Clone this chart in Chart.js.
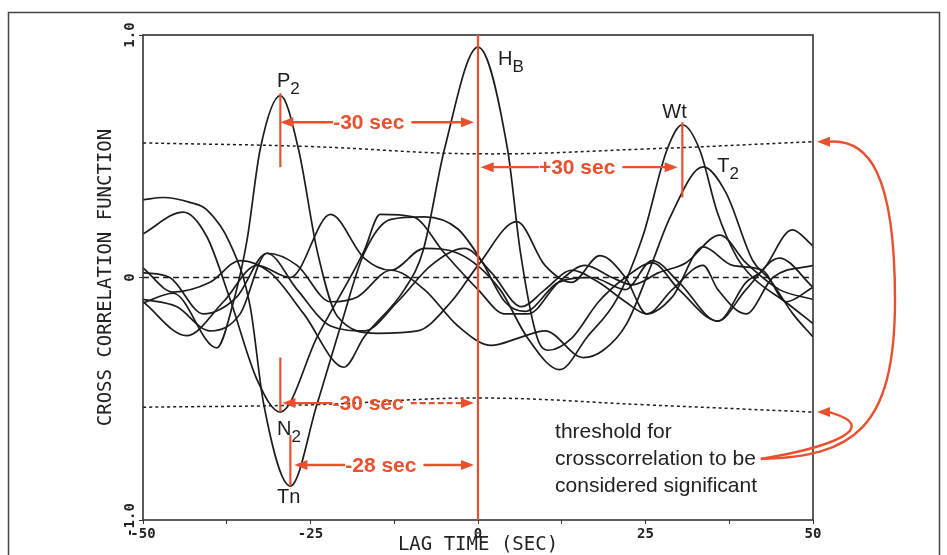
<!DOCTYPE html>
<html lang="en">
<head>
<meta charset="UTF-8">
<title>Cross Correlation Function</title>
<script src="https://cdn.jsdelivr.net/npm/chart.js"></script>
<style>
    html, body { margin: 0; padding: 0; background: #fff; }
    #wrap { width: 947px; height: 555px; position: relative; }
</style>
</head>
<body>
<div id="wrap"><canvas id="ccf" width="947" height="555"></canvas></div>
<script>
// --- curves (lag in sec, correlation) ---
const hbX = [-50, -45.5, -40, -35.5, -31, -26, -20, -17, -11, -8.2, -5, 0, 4.4, 6.3, 8.8, 10.5, 14, 18, 22, 26, 30, 35.8, 40, 42.5, 46.9, 50];
const hbY = [0.04, -0.06, -0.02, 0.07, 0.02, -0.15, -0.37, -0.245, -0.05, 0.11, 0.53, 0.95, 0.53, 0.11, -0.245, -0.3, -0.25, -0.1, 0.0, 0.06, -0.05, -0.18, -0.02, 0.03, 0.196, 0.13];

const p2X = [-50, -45.5, -39, -36.5, -34.5, -32.5, -29.5, -26.8, -24, -21, -15, -9, -4, 0, 5.8, 10, 14, 18.2, 22, 25.2, 29, 33.6, 38, 42.5, 46, 50];
const p2Y = [-0.105, -0.065, -0.29, -0.1, 0.15, 0.53, 0.75, 0.53, 0.11, -0.16, -0.23, -0.22, -0.1, 0.05, 0.23, 0.05, -0.02, 0.09, 0.0, -0.15, -0.08, 0.126, 0.05, 0.03, -0.1, -0.04];

const tnX = [-50, -47, -43, -40.5, -37, -34, -32, -28, -24, -20.5, -17, -13, -8, -3, 0.5, 4, 7, 12, 17, 22, 26, 30, 35.8, 40, 45, 50];
const tnY = [0.32, 0.33, 0.31, 0.28, 0.14, -0.12, -0.52, -0.86, -0.52, -0.2, 0.1, 0.24, 0.25, 0.2, 0.07, -0.1, -0.14, -0.02, 0.0, -0.05, 0.07, -0.02, -0.18, -0.05, 0.08, -0.04];

const n2X = [-50, -44, -40.5, -37, -33, -29.5, -24, -17, -14.6, -9.7, -5, 0, 4, 7.5, 12, 16, 20, 23, 27, 31, 36.1, 40, 45, 50];
const n2Y = [0.18, 0.27, 0.17, -0.09, -0.42, -0.555, -0.245, 0.11, 0.26, 0.25, 0.1, -0.05, -0.15, -0.15, -0.02, 0.05, 0.0, -0.03, 0.02, 0.06, 0.175, 0.06, -0.05, -0.09];

const wtX = [-50, -43.5, -38, -33, -28, -22, -17, -13, -8, -3, 3.3, 7.3, 12.2, 16.3, 20.7, 24.6, 28.2, 30.5, 33.1, 35.7, 38.6, 41, 46.1, 50];
const wtY = [-0.1, -0.24, -0.1, 0.05, 0.0, 0.26, 0.08, 0.03, 0.12, 0.1, -0.05, -0.245, -0.38, -0.245, -0.09, 0.17, 0.526, 0.63, 0.526, 0.27, 0.085, 0.0, -0.105, -0.19];

const t2X = [-50, -46, -41, -36, -31.5, -27, -22, -18, -13, -8, -3, 2, 6, 10, 15.7, 18.7, 22.2, 25.7, 28.7, 33.6, 37, 41, 43.6, 47, 50];
const t2Y = [0.02, 0.0, -0.15, -0.08, 0.1, 0.05, -0.1, -0.08, 0.03, -0.05, -0.2, -0.28, -0.25, -0.22, -0.33, -0.3, -0.19, 0.04, 0.25, 0.456, 0.35, 0.07, -0.01, -0.15, -0.245];

const c7X = [-50, -45, -40, -35.5, -31.5, -27, -22, -17, -12, -7, -2, 2, 6.5, 10, 14, 18, 22, 25.2, 29, 33.6, 35.8, 40, 44, 50];
const c7Y = [-0.09, -0.12, -0.22, -0.15, 0.1, -0.05, -0.2, -0.22, -0.1, 0.05, 0.12, 0.02, -0.12, -0.05, 0.03, -0.02, -0.1, -0.15, -0.05, 0.05, -0.05, -0.15, 0.0, 0.05];

// significance thresholds and zero line
const thrX = [-50, -25, 0, 25, 50];
const thrUp = [0.555, 0.54, 0.51, 0.53, 0.56];
const thrLow = [-0.535, -0.525, -0.497, -0.525, -0.555];
const zeroX = [-50, 50];
const zeroY = [0, 0];

// annotations
const arrowY = [0.64, 0.455, -0.518, -0.773];
const arrowFrom = [-29.5, 0.4, -29.2, -27.4];
const arrowTo = [-0.6, 29.8, -0.6, -0.6];
const arrowText = ['-30 sec', '+30 sec', '-30 sec', '-28 sec'];
const arrowTextX = [-16.3, 14.8, -16.4, -14.5];

const markX = [-29.5, -29.5, -28, 30.5];
const markTop = [0.76, -0.33, -0.65, 0.64];
const markBottom = [0.455, -0.555, -0.86, 0.33];

const labelMain = ['P', 'H', 'N', 'Tn', 'Wt', 'T'];
const labelSub = ['2', 'B', '2', '', '', '2'];
const labelX = [-30, 3.0, -30, -30, 27.5, 35.7];
const labelY = [0.786, 0.876, -0.649, -0.93, 0.658, 0.435];

const noteLines = ['threshold for', 'crosscorrelation to be', 'considered significant'];
const noteX = 11.5;
const noteY = [-0.662, -0.773, -0.885];

const RED = '#e8502e';
const INK = '#1c1c1c';

function pts(xs, ys) { return xs.map((x, i) => ({ x: x, y: ys[i] })); }

function curve(xs, ys) {
    return {
        data: pts(xs, ys),
        borderColor: INK,
        borderWidth: 1.7,
        pointRadius: 0,
        cubicInterpolationMode: 'monotone',
        fill: false
    };
}

function dashed(xs, ys, dash) {
    return {
        data: pts(xs, ys),
        borderColor: INK,
        borderWidth: 1.5,
        borderDash: dash,
        pointRadius: 0,
        tension: 0.4,
        fill: false
    };
}

function arrowHead(ctx, x, y, dir) {
    ctx.beginPath();
    ctx.moveTo(x, y);
    ctx.lineTo(x - dir * 13, y - 5);
    ctx.lineTo(x - dir * 13, y + 5);
    ctx.closePath();
    ctx.fill();
}

const annotate = {
    id: 'annotate',
    afterDatasetsDraw(chart) {
        const ctx = chart.ctx;
        const sx = chart.scales.x, sy = chart.scales.y;
        const a = chart.chartArea;
        ctx.save();

        // plot frame
        ctx.strokeStyle = '#333';
        ctx.lineWidth = 1.6;
        ctx.strokeRect(a.left, a.top, a.right - a.left, a.bottom - a.top);

        // red lag markers
        ctx.strokeStyle = RED;
        ctx.fillStyle = RED;
        ctx.lineWidth = 2.2;
        const x0 = sx.getPixelForValue(0);
        ctx.beginPath();
        ctx.moveTo(x0, a.top);
        ctx.lineTo(x0, a.bottom);
        ctx.stroke();
        markX.forEach((mx, i) => {
            const x = sx.getPixelForValue(mx);
            ctx.beginPath();
            ctx.moveTo(x, sy.getPixelForValue(markTop[i]));
            ctx.lineTo(x, sy.getPixelForValue(markBottom[i]));
            ctx.stroke();
        });

        // horizontal arrows with lag text
        ctx.font = 'bold 21px "Liberation Sans", Arial, sans-serif';
        ctx.textAlign = 'center';
        ctx.textBaseline = 'middle';
        arrowY.forEach((ay, i) => {
            const y = sy.getPixelForValue(ay);
            const x1 = sx.getPixelForValue(arrowFrom[i]);
            const x2 = sx.getPixelForValue(arrowTo[i]);
            const tx = sx.getPixelForValue(arrowTextX[i]);
            const w = ctx.measureText(arrowText[i]).width;
            ctx.lineWidth = 2.4;
            ctx.setLineDash([]);
            ctx.beginPath();
            ctx.moveTo(x1 + 4, y);
            ctx.lineTo(tx - w / 2, y);
            ctx.stroke();
            if (i === 2) ctx.setLineDash([6, 3]);
            ctx.beginPath();
            ctx.moveTo(tx + w / 2 + 7, y);
            ctx.lineTo(x2 - 4, y);
            ctx.stroke();
            ctx.setLineDash([]);
            arrowHead(ctx, x1, y, -1);
            arrowHead(ctx, x2, y, 1);
            ctx.fillText(arrowText[i], tx, y + 1);
        });

        // curve labels
        ctx.fillStyle = INK;
        ctx.textAlign = 'left';
        ctx.textBaseline = 'alphabetic';
        labelMain.forEach((t, i) => {
            const x = sx.getPixelForValue(labelX[i]);
            const y = sy.getPixelForValue(labelY[i]);
            ctx.font = '20px "Liberation Sans", Arial, sans-serif';
            ctx.fillText(t, x, y);
            if (labelSub[i]) {
                const w = ctx.measureText(t).width;
                ctx.font = '17px "Liberation Sans", Arial, sans-serif';
                ctx.fillText(labelSub[i], x + w, y + 7);
            }
        });

        // threshold note
        ctx.fillStyle = '#222';
        ctx.font = '21px "Liberation Sans", Arial, sans-serif';
        const nx = sx.getPixelForValue(noteX);
        noteLines.forEach((t, i) => ctx.fillText(t, nx, sy.getPixelForValue(noteY[i])));

        // curved arrows from the note to the threshold ends
        ctx.font = '21px "Liberation Sans", Arial, sans-serif';
        const ex = nx + ctx.measureText(noteLines[1]).width + 5;
        const ey = sy.getPixelForValue(noteY[1]) - 6;
        const upY = sy.getPixelForValue(thrUp[thrUp.length - 1]);
        const loY = sy.getPixelForValue(thrLow[thrLow.length - 1]);
        const r = a.right;
        ctx.strokeStyle = RED;
        ctx.fillStyle = RED;
        ctx.lineWidth = 2.4;
        ctx.beginPath();
        ctx.moveTo(ex, ey);
        ctx.bezierCurveTo(r + 40, ey - 2, r + 82, ey - 30, r + 82, (ey + upY) / 2);
        ctx.bezierCurveTo(r + 82, upY + 30, r + 55, upY - 3, r + 16, upY);
        ctx.stroke();
        arrowHead(ctx, r + 4, upY, -1);
        ctx.beginPath();
        ctx.moveTo(ex, ey);
        ctx.bezierCurveTo(r + 20, ey - 12, r + 70, loY + 15, r + 16, loY);
        ctx.stroke();
        arrowHead(ctx, r + 4, loY, -1);
        ctx.restore();
    },
    afterDraw(chart) {
        const ctx = chart.ctx;
        ctx.save();
        ctx.strokeStyle = '#444';
        ctx.lineWidth = 1.5;
        ctx.strokeRect(8.5, 12.5, 931, 570);
        ctx.restore();
    }
};

const monoTick = { family: '"DejaVu Sans Mono", monospace', size: 14, weight: 'bold' };
const monoTitle = { family: '"DejaVu Sans Mono", monospace', size: 19, lineHeight: 1 };

new Chart(document.getElementById('ccf'), {
    type: 'line',
    data: {
        datasets: [
            curve(hbX, hbY),
            curve(p2X, p2Y),
            curve(tnX, tnY),
            curve(n2X, n2Y),
            curve(wtX, wtY),
            curve(t2X, t2Y),
            curve(c7X, c7Y),
            dashed(zeroX, zeroY, [6, 4]),
            dashed(thrX, thrUp, [3, 3]),
            dashed(thrX, thrLow, [3, 3])
        ]
    },
    options: {
        responsive: false,
        animation: false,
        layout: { padding: { left: 0, top: 35, right: 134, bottom: 0 } },
        plugins: { legend: { display: false }, tooltip: { enabled: false } },
        scales: {
            x: {
                type: 'linear',
                min: -50,
                max: 50,
                afterFit(s) { s.height = 35; },
                border: { display: false },
                grid: { drawOnChartArea: false, tickLength: 4, color: '#333' },
                ticks: {
                    stepSize: 12.5,
                    autoSkip: false,
                    maxRotation: 0,
                    padding: 2,
                    color: '#222',
                    font: monoTick,
                    callback: v => (v % 25 === 0 ? String(v) : '')
                },
                title: { display: true, text: 'LAG TIME (SEC)', color: '#222', font: monoTitle, padding: 0 }
            },
            y: {
                min: -1,
                max: 1,
                afterFit(s) { s.width = 143; },
                border: { display: false },
                grid: { drawOnChartArea: false, tickLength: 4, color: '#333' },
                ticks: {
                    stepSize: 1,
                    minRotation: 90,
                    maxRotation: 90,
                    crossAlign: 'center',
                    padding: -8,
                    color: '#222',
                    font: monoTick,
                    callback: v => (v === 0 ? '0' : v.toFixed(1))
                },
                title: { display: true, text: 'CROSS CORRELATION FUNCTION', color: '#222', font: monoTitle, padding: { top: 97 } }
            }
        }
    },
    plugins: [annotate]
});
</script>
</body>
</html>
